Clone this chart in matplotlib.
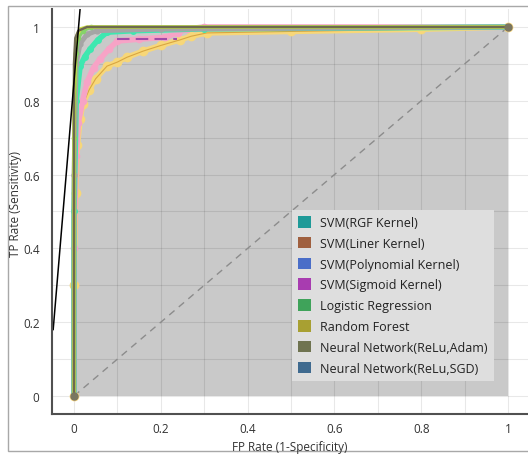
import matplotlib
matplotlib.use("Agg")
import matplotlib.pyplot as plt
from matplotlib.patches import Patch, Rectangle
from matplotlib.ticker import FixedLocator, MultipleLocator, FuncFormatter

plt.rcParams['font.family'] = ['Open Sans', 'DejaVu Sans']

# ---------------- data ----------------
legend_labels = ["SVM(RGF Kernel)", "SVM(Liner Kernel)", "SVM(Polynomial Kernel)",
                 "SVM(Sigmoid Kernel)", "Logistic Regression", "Random Forest",
                 "Neural Network(ReLu,Adam)", "Neural Network(ReLu,SGD)"]
legend_colors = ["#1f9a98", "#a0603f", "#4a6ec8", "#a83cb0",
                 "#3fa35a", "#a8a032", "#6f7350", "#3f6a8f"]

hull_fpr = [0.0, 0.0, 0.003, 0.01, 0.03, 1.0, 1.0]
hull_tpr = [0.0, 0.9, 0.97, 0.99, 1.0, 1.0, 0.0]

yellow_fpr = [0, 0.0, 0.004, 0.008, 0.014, 0.02, 0.035, 0.05, 0.076, 0.1, 0.122, 0.16, 0.2, 0.244, 0.27, 0.306, 0.5, 0.8, 1.0]
yellow_tpr = [0, 0.3, 0.55, 0.68, 0.75, 0.79, 0.83, 0.86, 0.894, 0.905, 0.918, 0.935, 0.95, 0.965, 0.975, 0.984, 0.988, 0.994, 1.0]

pink_fpr = [0, 0.0, 0.005, 0.01, 0.02, 0.03, 0.045, 0.06, 0.08, 0.1, 0.15, 0.21, 0.24, 0.26, 0.3, 1.0]
pink_tpr = [0, 0.4, 0.65, 0.74, 0.8, 0.85, 0.89, 0.913, 0.94, 0.962, 0.967, 0.972, 0.985, 0.995, 1.0, 1.0]

mint_fpr = [0, 0.0, 0.005, 0.014, 0.025, 0.037, 0.055, 0.076, 0.136, 0.3, 1.0]
mint_tpr = [0, 0.5, 0.8, 0.894, 0.92, 0.94, 0.965, 0.986, 0.99, 0.995, 1.0]

gray_fpr = [0, 0.0, 0.005, 0.014, 0.03, 0.053, 0.2, 1.0]
gray_tpr = [0, 0.6, 0.9, 0.955, 0.98, 0.99, 0.994, 1.0]

sigm_fpr = [0.1, 0.237]
sigm_tpr = [0.967, 0.967]

green_fpr = [0, 0.0, 0.005, 0.01, 0.02, 0.04, 1.0]
green_tpr = [0, 0.7, 0.93, 0.97, 0.99, 1.0, 1.0]

lime_fpr = [0, 0.0, 0.004, 0.008, 0.015, 0.03, 1.0]
lime_tpr = [0, 0.8, 0.95, 0.98, 0.995, 1.0, 1.0]

top_fpr = [0, 0.0, 0.003, 0.01, 0.03, 1.0]
top_tpr = [0, 0.9, 0.97, 0.99, 1.0, 1.0]

diag = [0.0, 1.0]
iso_x = [-0.048, 0.014]
iso_y = [0.18, 1.049]

xticks = [0, 0.2, 0.4, 0.6, 0.8, 1.0]
yticks = [0, 0.2, 0.4, 0.6, 0.8, 1.0]

# ---------------- figure ----------------
W, H = 528, 460
fig = plt.figure(figsize=(W / 100, H / 100), dpi=100)
fig.patch.set_facecolor("white")

# outer frame
fig.patches.append(Rectangle((8 / W, (H - 452) / H), (W - 7) / W, (452 - 7) / H,
                             transform=fig.transFigure, fill=False,
                             edgecolor="#a8a8a8", linewidth=1.0))

ax = fig.add_axes([52 / W, (H - 415) / H, (W - 52) / W, (415 - 10) / H])
ax.set_facecolor("none")
ax.set_xlim(-0.0507, 1.046)
ax.set_ylim(-0.0488, 1.0488)

# area under hull
ax.fill(hull_fpr, hull_tpr, color="#c9c9c9", zorder=1, linewidth=0)

# grid
ax.xaxis.set_minor_locator(MultipleLocator(0.1))
ax.yaxis.set_minor_locator(MultipleLocator(0.1))
ax.grid(which="both", color="black", alpha=0.09, linewidth=0.8, zorder=2)
ax.set_axisbelow(False)

# diagonal
ax.plot(diag, diag, linestyle=(0, (5, 4)), color="#8c8c8c", linewidth=1.0, zorder=3)

# curves
ax.plot(yellow_fpr, yellow_tpr, color="#f7d779", linewidth=4, marker="o",
        markersize=6, zorder=4, solid_capstyle="round")
ax.plot(yellow_fpr, yellow_tpr, color="#d9a640", linewidth=0.8, zorder=4.1)
ax.plot(pink_fpr, pink_tpr, color="#f7a3c6", linewidth=4, marker="o",
        markersize=4.5, zorder=5)
ax.plot(sigm_fpr, sigm_tpr, color="#a04aa8", linewidth=1.5, linestyle=(0, (6, 3)), zorder=5.5)
ax.plot(mint_fpr, mint_tpr, color="#3ee8b0", linewidth=4, marker="o",
        markersize=4, zorder=6)
ax.plot(gray_fpr, gray_tpr, color="#a5a5a5", linewidth=3.5, marker="o",
        markersize=3.5, zorder=7)
ax.plot(green_fpr, green_tpr, color="#86d36a", linewidth=2.5, marker="o",
        markersize=3, zorder=8)
ax.plot(lime_fpr, lime_tpr, color="#cfe04a", linewidth=2.5, zorder=9)
ax.plot(top_fpr, top_tpr, color="#6e6a50", linewidth=1.8, zorder=10)
ax.plot([0, 1], [0, 1], linestyle="none", marker="o", color="#7a7660",
        markersize=5, zorder=11)

# iso-performance line
ax.plot(iso_x, iso_y, color="black", linewidth=1.1, zorder=12)

# spines
for s in ["top", "right"]:
    ax.spines[s].set_visible(False)
for s in ["left", "bottom"]:
    ax.spines[s].set_color("#505050")
    ax.spines[s].set_linewidth(1.5)
    ax.spines[s].set_zorder(13)

fmt = FuncFormatter(lambda v, p: ("%g" % round(v, 2)))
ax.xaxis.set_major_locator(FixedLocator(xticks))
ax.yaxis.set_major_locator(FixedLocator(yticks))
ax.xaxis.set_major_formatter(fmt)
ax.yaxis.set_major_formatter(fmt)
ax.tick_params(which="both", length=0, labelsize=8.5, labelcolor="#333333")
ax.tick_params(axis="x", pad=6)
ax.tick_params(axis="y", pad=9)

fig.text(290 / W, (H - 448) / H, "FP Rate (1-Specificity)", ha="center", va="center",
         fontsize=8.5, color="#333333")
fig.text(16 / W, (H - 204) / H, "TP Rate (Sensitivity)", ha="center", va="center",
         rotation=90, fontsize=8.5, color="#333333")

handles = [Patch(facecolor=c, edgecolor="none") for c in legend_colors]
leg = ax.legend(handles, legend_labels, loc="lower left",
                bbox_to_anchor=((292 - 52) / (W - 52), (415 - 382) / (415 - 10)),
                borderaxespad=0, fontsize=9, handlelength=1.05, handleheight=1.05,
                handletextpad=0.7, labelspacing=0.62, borderpad=0.5,
                frameon=True, fancybox=False)
leg.get_frame().set_facecolor("#dedede")
leg.get_frame().set_edgecolor("none")
leg.get_frame().set_alpha(1)
leg.set_zorder(20)
for t in leg.get_texts():
    t.set_color("#222222")

fig.savefig("out.png", dpi=100)
